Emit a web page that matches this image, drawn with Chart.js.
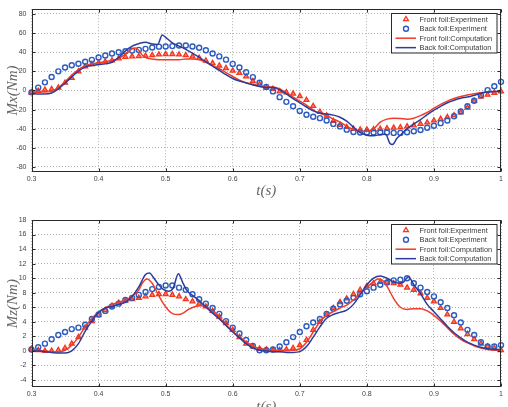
<!DOCTYPE html>
<html><head><meta charset="utf-8">
<script src="https://cdn.jsdelivr.net/npm/chart.js@4.4.0/dist/chart.umd.min.js"></script>
<style>
html,body{margin:0;padding:0;background:#fff;width:508px;height:407px;overflow:hidden;position:relative;}
canvas{position:absolute;left:0;}
#c1{top:0;}
#c2{top:200px;}
</style></head><body>
<canvas id="c1" width="508" height="201"></canvas>
<canvas id="c2" width="508" height="217"></canvas>
<script>
// ---------- shared ----------
const seriesNames = ['Front foil:Experiment','Back foil:Experiment','Front foil:Computation','Back foil:Computation'];
const xTicks = [0.3,0.4,0.5,0.6,0.7,0.8,0.9,1.0];
const xTickLabels = ['0.3','0.4','0.5','0.6','0.7','0.8','0.9','1'];
const tExp = [0.30,0.31,0.32,0.33,0.34,0.35,0.36,0.37,0.38,0.39,0.40,0.41,0.42,0.43,0.44,0.45,0.46,0.47,0.48,0.49,
              0.50,0.51,0.52,0.53,0.54,0.55,0.56,0.57,0.58,0.59,0.60,0.61,0.62,0.63,0.64,0.65,0.66,0.67,0.68,0.69,
              0.70,0.71,0.72,0.73,0.74,0.75,0.76,0.77,0.78,0.79,0.80,0.81,0.82,0.83,0.84,0.85,0.86,0.87,0.88,0.89,
              0.90,0.91,0.92,0.93,0.94,0.95,0.96,0.97,0.98,0.99,1.00];

// ---------- top panel: Mx ----------
const yTicksMx = [-80,-60,-40,-20,0,20,40,60,80];
const yTickLabelsMx = ['-80','-60','-40','-20','0','20','40','60','80'];
const frontExpMx = [-2,-0.5,0.7,1.4,3,8,13,20,25,27.5,29,30.2,31.5,33.5,35,35.6,35.8,36.3,37,37.6,
                    38,38,37.6,37,35.6,34,31.2,28.5,26,23.4,20.7,18.3,14.6,9.8,6.4,3,1.7,-1,-2,-3.4,
                    -6,-10,-16.3,-22.4,-26.4,-32,-36,-38.3,-40.3,-41,-41,-40.7,-40.3,-39.7,-39,-38.6,-37.6,-36.6,-35,-33.6,
                    -31.5,-29.8,-28,-26,-23,-18,-11,-6.5,-4.5,-2.5,-1];
const backExpMx = [-2,3,8.5,14,20,24,26.4,28,30,32,34.5,36.6,38.6,40,41,41.7,42.4,43.5,45,45.8,
                   46,46.4,47,47,46,44.7,42,38.6,35.6,32.2,27.8,24,19,13.9,8,3.7,-1,-7,-11.9,-16.6,
                   -21.4,-25.4,-27.5,-29,-31.5,-35,-37.6,-41,-43.4,-44,-44,-44,-44,-44,-44.4,-44.4,-43.7,-42.7,-41.4,-39,
                   -37,-34.2,-31.5,-27,-22,-16.6,-10.8,-5,0.3,4.4,9];
const frontCompMx = [[0.30,-1.7],[0.31,-1.7],[0.32,-1.7],[0.33,-1],[0.34,3],[0.35,9],[0.36,16],[0.37,21.7],[0.38,26],[0.39,27.8],
  [0.40,29],[0.41,30],[0.42,31.5],[0.43,33.5],[0.44,38],[0.45,43.5],[0.455,44.5],[0.46,42],[0.465,37],[0.47,34.5],
  [0.48,33],[0.49,32.2],[0.50,32],[0.51,32],[0.52,32],[0.53,33],[0.54,33],[0.55,32.2],[0.56,29.5],[0.57,26],
  [0.58,22.7],[0.59,18.6],[0.60,14.6],[0.61,10.8],[0.62,8.1],[0.63,6.4],[0.64,5],[0.65,3.7],[0.66,3.7],[0.67,1.7],
  [0.68,-2.7],[0.69,-7.1],[0.70,-11.2],[0.71,-15.3],[0.72,-20.3],[0.73,-24],[0.74,-26.4],[0.75,-29.8],[0.76,-33.2],[0.77,-37.3],
  [0.78,-41],[0.79,-42.7],[0.80,-42.7],[0.81,-40],[0.82,-33.2],[0.83,-30],[0.84,-29],[0.85,-29.3],[0.86,-30],[0.87,-29],
  [0.88,-26.4],[0.89,-23],[0.90,-18.6],[0.91,-14.6],[0.92,-11.2],[0.93,-8.5],[0.94,-6.4],[0.95,-4.7],[0.96,-3.4],[0.97,-2.4],
  [0.98,-1.7],[0.99,-1],[1.00,-1]];
const backCompMx = [[0.30,-2.7],[0.31,-3.7],[0.32,-3.7],[0.33,-2.7],[0.34,1.7],[0.35,7.5],[0.36,14.2],[0.37,20.3],[0.38,24.4],[0.39,26],
  [0.40,27],[0.41,27.8],[0.42,29.5],[0.43,34.5],[0.44,41.4],[0.45,46.4],[0.46,49],[0.47,50.5],[0.48,48.5],[0.488,48],
  [0.495,58],[0.50,55.6],[0.51,49.8],[0.52,46.4],[0.53,43],[0.54,39],[0.55,34.6],[0.56,30.2],[0.57,25.4],[0.58,21],
  [0.59,16.6],[0.60,12.5],[0.61,9.8],[0.62,7.8],[0.63,5.8],[0.64,4],[0.65,3],[0.66,3],[0.67,0.7],[0.68,-3.7],
  [0.69,-8.5],[0.70,-12.9],[0.71,-17.3],[0.72,-21.4],[0.73,-23.7],[0.74,-24.7],[0.75,-25.8],[0.76,-28],[0.77,-32.2],[0.78,-38.3],
  [0.79,-44],[0.80,-46.8],[0.81,-47.5],[0.82,-46],[0.828,-45.8],[0.834,-55],[0.838,-56.6],[0.845,-50],[0.85,-46.8],[0.86,-40],
  [0.87,-35],[0.88,-30.5],[0.89,-25.4],[0.90,-20.7],[0.91,-16.6],[0.92,-12.9],[0.93,-10.2],[0.94,-8.1],[0.95,-6.8],[0.96,-5],
  [0.97,-3],[0.98,-1.7],[0.99,-1],[1.00,-1]];

// ---------- bottom panel: Mz ----------
const yTicksMz = [-4,-2,0,2,4,6,8,10,12,14,16,18];
const yTickLabelsMz = ['-4','-2','0','2','4','6','8','10','12','14','16','18'];
const frontExpMz = [0.3,0.1,0,0,0.1,0.4,1.0,1.9,3.2,4.1,4.9,5.6,6.2,6.6,6.9,7.1,7.3,7.5,7.7,7.8,
                    7.8,7.7,7.5,7.1,6.8,6.5,6.1,5.5,4.7,3.8,2.9,1.9,1.0,0.6,0.3,0.2,0.1,0.1,0.2,0.4,
                    0.8,1.5,2.9,4.0,5.0,5.9,6.7,7.2,7.8,8.4,8.9,9.3,9.5,9.4,9.3,9.1,8.7,8.4,7.9,7.3,
                    6.8,5.9,5.0,4.0,3.1,2.3,1.6,1.0,0.6,0.4,0.1];
const backExpMz = [0.2,0.5,1.0,1.6,2.2,2.6,3.0,3.2,3.6,4.4,5.0,5.5,6.1,6.5,7.0,7.3,7.7,8.1,8.5,8.8,
                   9.0,9.0,8.7,8.4,7.8,7.1,6.5,5.9,5.1,4.1,3.2,2.4,1.5,0.7,0.1,0.1,0.2,0.6,1.2,1.9,
                   2.6,3.4,3.9,4.4,5.1,5.8,6.4,6.9,7.3,7.8,8.2,8.7,9.1,9.4,9.7,9.8,10.0,9.3,8.7,8.1,
                   7.5,6.7,5.9,4.9,3.9,2.9,2.2,1.2,0.6,0.6,0.8];
const frontCompMz = [[0.30,0.2],[0.31,0.1],[0.32,0],[0.33,-0.1],[0.34,-0.1],[0.35,0.1],[0.36,0.8],[0.37,1.9],[0.38,3.3],[0.39,4.5],
  [0.40,5.3],[0.41,5.9],[0.42,6.4],[0.43,6.7],[0.44,7.0],[0.45,7.5],[0.46,8.4],[0.465,9.3],[0.472,9.9],[0.48,9.3],
  [0.488,7.9],[0.496,6.6],[0.504,5.6],[0.511,5.1],[0.519,5.0],[0.526,5.2],[0.534,5.7],[0.544,6.1],[0.552,6.2],[0.56,6.0],
  [0.57,5.4],[0.58,4.6],[0.59,3.6],[0.60,2.7],[0.61,1.9],[0.62,1.2],[0.63,0.7],[0.64,0.3],[0.65,0.2],[0.66,0.1],
  [0.67,0.1],[0.68,0.1],[0.69,0.1],[0.70,0.3],[0.71,1.2],[0.72,2.6],[0.73,4.0],[0.74,4.9],[0.75,5.4],[0.76,5.9],
  [0.77,6.3],[0.78,7.0],[0.79,7.9],[0.80,8.8],[0.81,9.5],[0.816,9.9],[0.822,9.8],[0.83,8.9],[0.84,7.2],[0.85,6.0],
  [0.86,5.7],[0.87,5.8],[0.88,5.8],[0.89,5.5],[0.90,4.9],[0.91,4.1],[0.92,3.2],[0.93,2.3],[0.94,1.6],[0.95,1.1],
  [0.96,0.7],[0.97,0.4],[0.98,0.2],[0.99,0.1],[1.00,0.1]];
const backCompMz = [[0.30,0],[0.31,0],[0.32,-0.1],[0.33,-0.2],[0.34,-0.3],[0.35,-0.3],[0.36,0],[0.37,1.0],[0.38,2.7],[0.39,4.1],
  [0.40,5.3],[0.41,5.9],[0.42,6.1],[0.43,6.4],[0.44,6.7],[0.45,7.5],[0.46,8.8],[0.47,10.5],[0.476,10.7],[0.481,10.2],
  [0.488,9.3],[0.496,8.5],[0.504,8.2],[0.511,8.6],[0.519,10.6],[0.525,9.5],[0.531,8.4],[0.539,7.7],[0.549,7.0],[0.559,6.1],
  [0.57,5.2],[0.58,4.4],[0.59,3.5],[0.60,2.6],[0.61,1.8],[0.62,1.0],[0.63,0.4],[0.64,0.1],[0.65,0],[0.66,-0.1],
  [0.67,-0.1],[0.68,-0.2],[0.69,-0.2],[0.70,-0.1],[0.71,0.6],[0.72,1.9],[0.73,3.3],[0.74,4.5],[0.75,5.0],[0.76,5.3],
  [0.77,5.6],[0.78,6.4],[0.79,7.7],[0.80,9.1],[0.81,10.0],[0.82,10.3],[0.83,10.0],[0.84,9.5],[0.85,9.3],[0.855,9.5],
  [0.862,10.2],[0.87,9.1],[0.88,7.9],[0.89,6.4],[0.90,5.4],[0.91,4.4],[0.92,3.4],[0.93,2.5],[0.94,1.8],[0.95,1.2],
  [0.96,0.8],[0.97,0.5],[0.98,0.3],[0.99,0.2],[1.00,0.2]];

// ---------- styles ----------
const RED_MK = '#f4361c', BLUE_MK = '#2d5cc0', RED_LN = '#f03c28', BLUE_LN = '#2c3c9e';
const TICK_FONT = {family:"'Liberation Sans', Arial, sans-serif", size:7};
const TITLE_FONT = {family:"'Liberation Serif', 'DejaVu Serif', serif", size:15, style:'italic'};

function expPts(vals){ return tExp.map((t,i)=>({x:t, y:vals[i]})); }
function pairPts(p){ return p.map(d=>({x:d[0], y:d[1]})); }

function makeDatasets(fe, be, fc, bc){
  return [
    {label:seriesNames[0], data:expPts(fe), showLine:false, pointStyle:'triangle', pointRadius:2.8,
     pointBorderWidth:1.3, borderColor:RED_MK, backgroundColor:'rgba(244,54,28,0.6)', clip:false, order:4},
    {label:seriesNames[1], data:expPts(be), showLine:false, pointStyle:'circle', pointRadius:2.5,
     pointBorderWidth:1.4, borderColor:BLUE_MK, backgroundColor:'rgba(255,255,255,0)', clip:false, order:3},
    {label:seriesNames[2], data:pairPts(fc), showLine:true, pointRadius:0, borderWidth:1.5, borderColor:RED_LN,
     backgroundColor:RED_LN, cubicInterpolationMode:'monotone', order:2},
    {label:seriesNames[3], data:pairPts(bc), showLine:true, pointRadius:0, borderWidth:1.5, borderColor:BLUE_LN,
     backgroundColor:BLUE_LN, cubicInterpolationMode:'monotone', order:1}
  ];
}

const framePlugin = {
  id:'frame',
  afterDatasetsDraw(chart){
    const {ctx, chartArea:a, scales} = chart;
    ctx.save();
    ctx.strokeStyle = '#2a2a2a'; ctx.lineWidth = 1;
    const L = Math.round(a.left)+0.5, R = Math.round(a.right)-0.5, T = Math.round(a.top)+0.5, B = Math.round(a.bottom)-0.5;
    ctx.strokeRect(L, T, R-L, B-T);
    ctx.beginPath();
    scales.x.ticks.forEach(t=>{
      const px = Math.round(scales.x.getPixelForValue(t.value))+0.5;
      ctx.moveTo(px,B); ctx.lineTo(px,B-3); ctx.moveTo(px,T); ctx.lineTo(px,T+3);
    });
    scales.y.ticks.forEach(t=>{
      const py = Math.round(scales.y.getPixelForValue(t.value))+0.5;
      ctx.moveTo(L,py); ctx.lineTo(L+3,py); ctx.moveTo(R,py); ctx.lineTo(R-3,py);
    });
    ctx.stroke();
    ctx.restore();
  }
};

const legendPlugin = {
  id:'boxLegend',
  afterDatasetsDraw(chart){
    const {ctx, chartArea:a} = chart;
    const w = 105.5, h = 39.5;
    const x0 = Math.round(a.right - 4.7 - w), y0 = Math.round(a.top + 3.7);
    ctx.save();
    ctx.fillStyle = '#fff'; ctx.fillRect(x0, y0, w, h);
    ctx.strokeStyle = '#2a2a2a'; ctx.lineWidth = 1; ctx.strokeRect(x0+0.5, y0+0.5, w, h);
    ctx.font = "7.4px 'Liberation Sans', Arial, sans-serif";
    ctx.textBaseline = 'middle'; ctx.textAlign = 'left';
    chart.data.datasets.forEach((ds,i)=>{
      const y = y0 + 6.3 + i*9.45;
      if (ds.showLine){
        ctx.strokeStyle = ds.borderColor; ctx.lineWidth = 1.5;
        ctx.beginPath(); ctx.moveTo(x0+4.5, y); ctx.lineTo(x0+25, y); ctx.stroke();
      } else {
        ctx.strokeStyle = ds.borderColor; ctx.fillStyle = 'rgba(255,255,255,0)'; ctx.lineWidth = ds.pointBorderWidth;
        Chart.helpers.drawPoint(ctx, {pointStyle:ds.pointStyle, radius:ds.pointRadius, borderWidth:ds.pointBorderWidth, rotation:0}, x0+15, y);
      }
      ctx.fillStyle = '#3a3a3a';
      ctx.fillText(ds.label, x0+28.5, y+0.3);
    });
    ctx.restore();
  }
};

function makeChart(id, padTop, xAxisH, yMin, yMax, yTicks, yLabels, yTitle, datasets){
  return new Chart(document.getElementById(id), {
    type:'scatter',
    data:{datasets},
    options:{
      responsive:false, animation:false, devicePixelRatio:1,
      layout:{padding:{left:0, right:7, top:padTop, bottom:0}},
      plugins:{legend:{display:false}, tooltip:{enabled:false}},
      scales:{
        x:{type:'linear', min:0.3, max:1.0,
           afterBuildTicks:s=>{ s.ticks = xTicks.map(v=>({value:v})); },
           ticks:{font:TICK_FONT, color:'#444', padding:3, maxRotation:0, autoSkip:false,
                  callback:(v,i)=>xTickLabels[i]},
           grid:{color:'#b4b4b4', lineWidth:1, drawTicks:false},
           border:{display:false, dash:[1,2]},
           title:{display:true, text:'t(s)', font:TITLE_FONT, color:'#666', padding:{top:0, bottom:1}},
           afterFit:s=>{ s.height = xAxisH; }
        },
        y:{type:'linear', min:yMin, max:yMax,
           afterBuildTicks:s=>{ s.ticks = yTicks.map(v=>({value:v})); },
           ticks:{font:TICK_FONT, color:'#444', padding:5, autoSkip:false,
                  callback:(v,i)=>yLabels[i]},
           grid:{color:'#b4b4b4', lineWidth:1, drawTicks:false},
           border:{display:false, dash:[1,2]},
           title:{display:true, text:yTitle, font:TITLE_FONT, color:'#666', padding:{top:3.6, bottom:0}},
           afterFit:s=>{ s.width = 31.5; }
        }
      }
    },
    plugins:[framePlugin, legendPlugin]
  });
}

makeChart('c1', 5.3, 29.3, -85, 85, yTicksMx, yTickLabelsMx, 'Mx(Nm)',
          makeDatasets(frontExpMx, backExpMx, frontCompMx, backCompMx));
makeChart('c2', 20, 29.7, -5, 18, yTicksMz, yTickLabelsMz, 'Mz(Nm)',
          makeDatasets(frontExpMz, backExpMz, frontCompMz, backCompMz));
</script>
</body></html>
